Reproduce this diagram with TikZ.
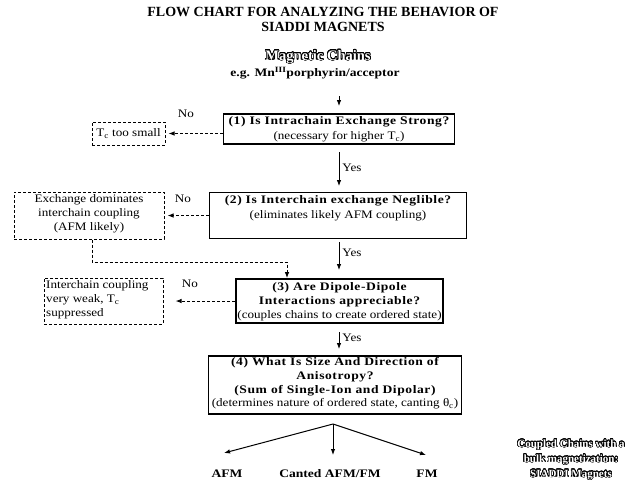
\documentclass[tikz,border=0pt]{standalone}
\usepackage{fontspec}
\setmainfont{Liberation Serif}
\newfontfamily\wfont{Liberation Serif}[FakeStretch=1.14]
\newfontfamily\bwfont{Liberation Serif Bold}[FakeStretch=1.18, LetterSpace=5]
\newfontfamily\bsfont{Liberation Serif Bold}[FakeStretch=1.18]
\usepackage{contour}
\contourlength{0.6pt}
\contournumber{32}
\usetikzlibrary{arrows.meta}
\newcommand{\hollow}[1]{{\color{white}\contour{black}{#1}}}
\tikzset{
  qbox/.style={draw, line width=1.3pt, inner sep=0pt},
  nbox/.style={draw, dash pattern=on 3pt off 2pt, line width=1pt, inner sep=0pt},
  txt/.style={inner sep=0pt, font=\wfont\fontsize{11.5}{14}\selectfont},
  btxt/.style={inner sep=0pt, font=\bwfont\fontsize{11.5}{14}\selectfont},
  ptxt/.style={inner sep=0pt, font=\bsfont\fontsize{11.5}{14}\selectfont},
  arr/.style={line width=0.8pt, -{Latex[length=6pt,width=4.5pt]}},
  darr/.style={line width=1pt, dash pattern=on 3pt off 2pt, -{Latex[length=6pt,width=4.5pt]}},
}
\begin{document}
\begin{tikzpicture}[x=1pt,y=-1pt]
\useasboundingbox (0,0) rectangle (628,485);
% title
\node[inner sep=0pt, font=\bfseries\fontsize{14}{15}\selectfont, align=center] (title) at (323,19.5)
  {FLOW CHART FOR ANALYZING THE BEHAVIOR OF\\SIADDI MAGNETS};
\node[inner sep=0pt, font=\bfseries\fontsize{14.5}{15}\selectfont] (mc) at (318,57) {\hollow{Magnetic Chains}};
\node[ptxt] (eg) at (315,73) {e.g. Mn\textsuperscript{III}porphyrin/acceptor};
\coordinate (s0) at (339,96);
\coordinate (s1) at (339,106);
\draw[arr] (s0) -- (s1);

% box 1
\node[qbox, line width=1.7pt, minimum width=231pt, minimum height=30pt] (b1) at (339,129) {};
\node[btxt] (b1a) at (339,122) {(1) Is Intrachain Exchange Strong?};
\node[txt] (b1b) at (339,137) {(necessary for higher T\textsubscript{c})};

% no 1
\node[nbox, minimum width=73pt, minimum height=23pt] (n1) at (128.5,133.5) {};
\node[txt] (n1t) at (128.5,133.5) {T\textsubscript{c} too small};
\node[txt] (no1) at (186,114) {No};
\draw[darr] (b1.west |- n1.east) -- ([xshift=3pt]n1.east);

% box 2
\node[qbox, minimum width=257pt, minimum height=46pt] (b2) at (338,215.5) {};
\node[btxt] (b2a) at (338,201) {(2) Is Interchain exchange Neglible?};
\node[txt] (b2b) at (338,216) {(eliminates likely AFM coupling)};
\draw[arr] (339,152) -- (339,186) node[pos=0.45, right, txt, xshift=3pt] (y1) {Yes};

% no 2
\node[nbox, minimum width=150pt, minimum height=47pt] (n2) at (89,215.5) {};
\node[txt, align=center] (n2t) at (89,213.5) {Exchange dominates\\interchain coupling\\(AFM likely)};
\node[txt] (no2) at (183,199) {No};
\draw[darr] (b2.west) -- ([xshift=3pt]n2.east |- b2.west);

% box 3
\node[qbox, line width=1.7pt, minimum width=207pt, minimum height=44pt] (b3) at (339.5,301) {};
\node[btxt, align=center] (b3a) at (339.5,294.5) {(3) Are Dipole-Dipole\\Interactions appreciable?};
\node[txt] (b3b) at (339.5,316) {(couples chains to create ordered state)};
\draw[arr] (339,242) -- (339,270) node[pos=0.4, right, txt, xshift=3pt] (y2) {Yes};

% dashed link from n2 to b3
\coordinate (k1) at (92,262);
\coordinate (k2) at (287,262);
\draw[darr] (n2.south -| k1) -- (k1) -- (k2) -- (k2 |- b3.north);

% no 3
\node[nbox, minimum width=119pt, minimum height=46pt] (n3) at (103.5,301) {};
\node[txt, align=left, anchor=west] (n3t) at (46,300) {Interchain coupling\\very weak, T\textsubscript{c}\\suppressed};
\node[txt] (no3) at (190,284) {No};
\draw[darr] (b3.west) -- ([xshift=12pt]n3.east |- b3.west);

% box 4
\node[qbox, minimum width=253pt, minimum height=58pt] (b4) at (335,385) {};
\node[btxt, align=center] (b4a) at (335,376.5) {(4) What Is Size And Direction of\\Anisotropy?\\(Sum of Single-Ion and Dipolar)};
\node[txt] (b4b) at (335,404) {(determines nature of ordered state, canting θ\textsubscript{c})};
\draw[arr] (339,332) -- (339,349) node[pos=0.35, right, txt, xshift=3pt] (y3) {Yes};

% outcomes
\coordinate (ap) at (333,424);
\node[ptxt] (afm) at (227,474) {AFM};
\node[ptxt] (cant) at (330,474) {Canted AFM/FM};
\node[ptxt] (fm) at (427,474) {FM};
\draw[arr, line width=1pt] (ap) -- (224,453);
\draw[arr, line width=1pt] (ap) -- (333,455);
\draw[arr, line width=1pt] (ap) -- (426,455);

\node[inner sep=0pt, font=\bfseries\fontsize{11}{15}\selectfont, align=center] (cc) at (571,460)
  {\hollow{Coupled Chains with a}\\\hollow{bulk magnetization:}\\\hollow{SIADDI Magnets}};
\end{tikzpicture}
\end{document}
